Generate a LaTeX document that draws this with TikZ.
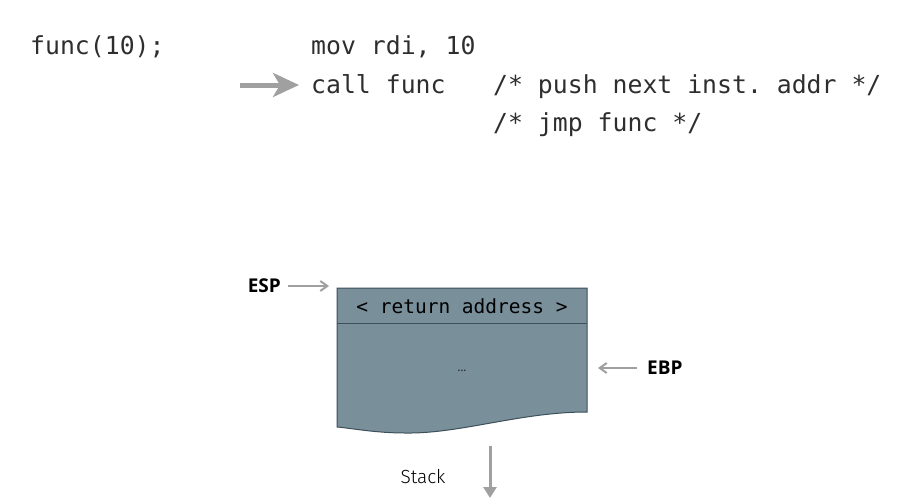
\documentclass[tikz,border=0pt]{standalone}
\usepackage{fontspec}
\setmainfont{Fira Sans}
\setmonofont{DejaVu Sans Mono}
\newfontfamily\labelfont{Open Sans}
\newfontfamily\stackfont{Fira Sans Light}
\usetikzlibrary{arrows.meta}
\definecolor{codegray}{HTML}{2E2E2E}
\definecolor{arrowgray}{HTML}{A0A0A0}
\definecolor{stackfill}{HTML}{798F9A}
\definecolor{stackline}{HTML}{3D4F58}
\begin{document}
\begin{tikzpicture}[x=1pt,y=-1pt,
  code/.style={anchor=base west,inner sep=0pt,font=\ttfamily\fontsize{24.8}{26}\selectfont,text=codegray},
  reg/.style={inner sep=0pt,font=\labelfont\bfseries\fontsize{19}{20}\selectfont,text=black},
  thinarrow/.style={draw=arrowgray,line width=2pt,-{Straight Barb[length=7pt,width=10pt,line width=2pt]}},
  bigarrow/.style={draw=arrowgray,line width=5pt,-{Stealth[length=26pt,width=24pt,inset=7pt]}}]
\useasboundingbox (0,0) rectangle (923,503);

% source line and its assembly
\node[code] (src) at (30,55) {func(10);};
\node[code] (mov) at (311,55) {mov rdi, 10};
\node[code] (call) at (311,93) {call func};
\node[code] (cmt1) at (493,93) {/* push next inst. addr */};
\node[code] (cmt2) at (493,131) {/* jmp func */};
\coordinate (pc) at (240,85);
\coordinate (pcend) at (299,85);
\draw[bigarrow] (pc) -- (pcend);

% stack frame with a torn bottom edge
\draw[fill=stackfill,draw=stackline,line width=1pt]
  (337,288) -- (587,288) -- (587,412)
  .. controls (520,412) and (460,434) .. (405,433)
  .. controls (375,433) and (350,428) .. (337,427) -- cycle;
\draw[stackline,line width=1pt] (337,323) -- (587,323);
\node[inner sep=0pt,font=\ttfamily\fontsize{19.5}{21}\selectfont,text=black] (ret) at (462,306) {< return address >};
\node[inner sep=0pt,font=\fontsize{12}{12}\selectfont,text=codegray] (dots) at (462,371) {...};
\coordinate (top) at (329,286);
\coordinate (ebpat) at (598,368);

% register pointers
\node[reg,anchor=east] (esp) at (281,286) {ESP};
\coordinate (espfrom) at (288,286);
\draw[thinarrow] (espfrom) -- (top);
\node[reg,anchor=west] (ebp) at (647,368) {EBP};
\coordinate (ebpfrom) at (637,368);
\draw[thinarrow] (ebpfrom) -- (ebpat);

% growth direction
\node[inner sep=0pt,font=\stackfont\fontsize{19}{20}\selectfont,text=black] (stk) at (423,477) {Stack};
\coordinate (gtop) at (490,446);
\coordinate (gbot) at (490,498);
\draw[draw=arrowgray,line width=3pt,-{Triangle[length=11pt,width=13pt]}] (gtop) -- (gbot);
\end{tikzpicture}
\end{document}
